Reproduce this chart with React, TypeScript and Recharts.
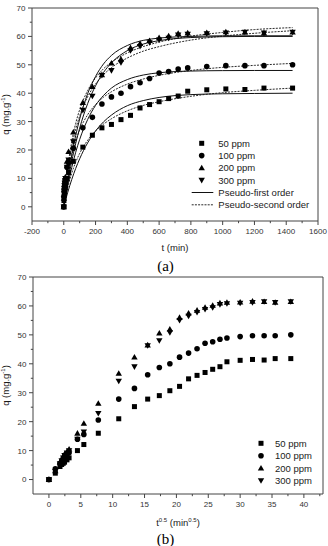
import React from 'react';
import { ComposedChart, Scatter, Line, XAxis, YAxis, ReferenceLine, Legend, Label } from 'recharts';

const FONT = '"Liberation Sans", Arial, Helvetica, sans-serif';
const SERIF = '"Liberation Serif", "Times New Roman", serif';
const INK = '#1a1a1a';
const AXIS = '#444';

// ---- experimental data (t in min, q in mg/g) ----
const TIMES = [0, 1, 3, 4, 5, 6, 8, 10, 20, 30, 60, 120, 180, 240, 300, 360, 420, 480, 540, 600, 660, 720, 780, 900, 1020, 1140, 1260, 1440];
const Q50 = [0, 2.2, 4.5, 5.2, 5.6, 6.0, 6.8, 7.5, 10, 12.1, 16, 21, 25.2, 27.8, 29, 30.7, 32.2, 34.8, 36, 37, 38.1, 39, 40.7, 41.2, 41.5, 41.3, 41.8, 41.8];
const Q100 = [0, 3.7, 5.5, 6.3, 7, 7.6, 8.5, 9.3, 13.9, 15.6, 20.6, 27.8, 31.5, 36.2, 38.7, 40, 42.3, 43.7, 45.2, 47.1, 47.6, 48.5, 48.9, 49.4, 49.7, 49.7, 49.7, 50];
const Q200 = [0, 3, 6, 7, 8, 8.8, 9.6, 10.5, 16, 19.4, 26.3, 36.7, 42.3, 46.5, 50.6, 52, 56, 57.5, 58.5, 59.5, 60.2, 61, 61.2, 61.3, 61.6, 61.5, 61.2, 61.5];
const Q300 = [0, 2.8, 5.5, 6.5, 7.5, 8.3, 9.2, 10, 14, 16.5, 22.9, 34, 39, 46.3, 48, 50.8, 55, 56.5, 57.8, 58.8, 59.4, 60.5, 60.8, 61, 61.2, 61.5, 61.2, 61.5];

// ---- fitted curves (a) ----
const FIT_T = [0, 10, 25, 50, 75, 100, 150, 200, 250, 300, 400, 500, 600, 800, 1000, 1200, 1440];
const PFO50 = [0, 2.1, 5.1, 9.6, 13.5, 16.9, 22.5, 26.7, 29.9, 32.3, 35.6, 37.4, 38.5, 39.5, 39.8, 39.9, 40];
const PSO50 = [0, 3.0, 6.8, 11.8, 15.7, 18.8, 23.4, 26.7, 29.1, 31.0, 33.8, 35.7, 37.0, 38.9, 40.2, 41.0, 41.8];
const PFO100 = [0, 3.2, 7.5, 13.8, 19.2, 23.7, 30.7, 35.7, 39.2, 41.8, 44.8, 46.4, 47.2, 47.8, 47.95, 48, 48];
const PSO100 = [0, 4.9, 10.8, 18.0, 23.1, 27.0, 32.4, 36.0, 38.6, 40.5, 43.2, 45.0, 46.3, 48.0, 49.1, 49.8, 50.5];
const PFO200 = [0, 4.2, 9.9, 18.2, 25.1, 30.9, 39.8, 45.9, 50.3, 53.3, 56.8, 58.6, 59.4, 60.0, 60.2, 60.2, 60.2];
const PSO200 = [0, 6.3, 13.8, 22.9, 29.4, 34.2, 40.9, 45.4, 48.6, 50.9, 54.2, 56.4, 58.0, 60.1, 61.4, 62.4, 63.1];
const PFO300 = [0, 3.6, 8.6, 16.0, 22.3, 27.7, 36.3, 42.6, 47.3, 50.7, 55.0, 57.3, 58.5, 59.6, 59.9, 60, 60];
const PSO300 = [0, 5.6, 12.5, 21.1, 27.3, 32.0, 38.7, 43.2, 46.5, 49.0, 52.4, 54.8, 56.4, 58.7, 60.1, 61.1, 62.0];

// ---- ticks ----
const A_X_MAJOR = [-200, 0, 200, 400, 600, 800, 1000, 1200, 1400, 1600];
const A_X_MINOR = [-100, 100, 300, 500, 700, 900, 1100, 1300, 1500];
const B_X_MAJOR = [0, 5, 10, 15, 20, 25, 30, 35, 40];
const B_X_MINOR = [2.5, 7.5, 12.5, 17.5, 22.5, 27.5, 32.5, 37.5, 42.5];
const Y_MAJOR = [0, 10, 20, 30, 40, 50, 60, 70];
const Y_MINOR = [5, 15, 25, 35, 45, 55, 65];

const SERIES_NAMES = ['50 ppm', '100 ppm', '200 ppm', '300 ppm'];
const FIT_NAMES = ['Pseudo-first order', 'Pseudo-second order'];

const zip = (xs: number[], ys: number[]) => xs.map((x, i) => ({ t: x, q: ys[i] }));
const SQRT_T = TIMES.map((t) => Math.sqrt(t));

// ---- marker shapes ----
const Square = (p: any) => <rect x={p.cx - 2.5} y={p.cy - 2.5} width={5} height={5} fill="#000" />;
const Circle = (p: any) => <circle cx={p.cx} cy={p.cy} r={2.8} fill="#000" />;
const TriUp = (p: any) => (
  <path d={`M${p.cx},${p.cy - 3.2} L${p.cx + 3.2},${p.cy + 2.4} L${p.cx - 3.2},${p.cy + 2.4} Z`} fill="#000" />
);
const TriDown = (p: any) => (
  <path d={`M${p.cx},${p.cy + 3.2} L${p.cx + 3.2},${p.cy - 2.4} L${p.cx - 3.2},${p.cy - 2.4} Z`} fill="#000" />
);
const SHAPES = [Square, Circle, TriUp, TriDown];
const VALUES = [Q50, Q100, Q200, Q300];

// ---- ticks renderers ----
const XTick = (props: any) => {
  const { x, y, payload, majors } = props;
  const v = payload.value;
  const major = majors.includes(v);
  return (
    <g>
      <line x1={x} x2={x} y1={y} y2={y + (major ? 4 : 2.2)} stroke={AXIS} strokeWidth={1} />
      {major && (
        <text x={x} y={y + 12.7} textAnchor="middle" fontSize={8} fill="#333" fontFamily={FONT}>
          {v}
        </text>
      )}
    </g>
  );
};

const YTick = (props: any) => {
  const { x, y, payload } = props;
  const v = payload.value;
  const major = Y_MAJOR.includes(v);
  return (
    <g>
      <line x1={x} x2={x - (major ? 4 : 2.2)} y1={y} y2={y} stroke={AXIS} strokeWidth={1} />
      {major && (
        <text x={x - 6.5} y={y + 2.9} textAnchor="end" fontSize={8} fill="#333" fontFamily={FONT}>
          {v}
        </text>
      )}
    </g>
  );
};

const YTitle = (top: number, height: number) => (props: any) => {
  const vb = props.viewBox || {};
  const cy = vb.height ? vb.y + vb.height / 2 : top + height / 2;
  const cx = 6;
  return (
    <text
      transform={`rotate(-90 ${cx} ${cy})`}
      x={cx}
      y={cy + 3.3}
      textAnchor="middle"
      fontSize={9.5}
      fill={INK}
      fontFamily={FONT}
    >
      q (mg.g
      <tspan dy={-4} fontSize={6}>-1</tspan>
      <tspan dy={4}>)</tspan>
    </text>
  );
};

const XTitleA = (props: any) => {
  const vb = props.viewBox || { x: 32, y: 221, width: 286 };
  return (
    <text x={vb.x + vb.width / 2} y={vb.y + 29.5} textAnchor="middle" fontSize={9.5} fill={INK} fontFamily={FONT}>
      t (min)
    </text>
  );
};

const XTitleB = (props: any) => {
  const vb = props.viewBox || { x: 33, y: 222, width: 290 };
  return (
    <text x={vb.x + vb.width / 2} y={vb.y + 31.5} textAnchor="middle" fontSize={9.5} fill={INK} fontFamily={FONT}>
      t<tspan dy={-4} fontSize={6}>0.5</tspan>
      <tspan dy={4}> (min</tspan>
      <tspan dy={-4} fontSize={6}>0.5</tspan>
      <tspan dy={4}>)</tspan>
    </text>
  );
};

const PanelTag = (tag: string) => (props: any) => {
  const vb = props.viewBox || { y: 221 };
  return (
    <text x={165.5} y={vb.y + 49.5} textAnchor="middle" fontSize={15} fill="#000" fontFamily={SERIF}>
      {tag}
    </text>
  );
};

const markerAt = (i: number, cx: number, cy: number) => {
  const S = SHAPES[i];
  return <S cx={cx} cy={cy} />;
};

const LegendA = () => {
  const rows = [6.3, 18.6, 30.9, 43.2, 55.5, 67.8];
  return (
    <svg width={140} height={78} style={{ overflow: 'visible' }}>
      {SERIES_NAMES.map((n, i) => (
        <g key={n}>
          {markerAt(i, 13.7, rows[i])}
          <text x={30.3} y={rows[i] + 3.3} fontSize={9.5} fill={INK} fontFamily={FONT}>
            {n}
          </text>
        </g>
      ))}
      {FIT_NAMES.map((n, j) => (
        <g key={n}>
          <line
            x1={3.7}
            x2={25.3}
            y1={rows[4 + j]}
            y2={rows[4 + j]}
            stroke="#111"
            strokeWidth={j === 0 ? 1 : 0.9}
            strokeDasharray={j === 0 ? undefined : '2 1.2'}
          />
          <text x={30.3} y={rows[4 + j] + 3.3} fontSize={9.5} fill={INK} fontFamily={FONT}>
            {n}
          </text>
        </g>
      ))}
    </svg>
  );
};

const LegendB = () => {
  const rows = [6.3, 18.8, 31.2, 43.6];
  return (
    <svg width={80} height={52} style={{ overflow: 'visible' }}>
      {SERIES_NAMES.map((n, i) => (
        <g key={n}>
          {markerAt(i, 11, rows[i])}
          <text x={25} y={rows[i] + 3.3} fontSize={9.5} fill={INK} fontFamily={FONT}>
            {n}
          </text>
        </g>
      ))}
    </svg>
  );
};

const FITS = [
  { data: PFO50, dash: false },
  { data: PSO50, dash: true },
  { data: PFO100, dash: false },
  { data: PSO100, dash: true },
  { data: PFO200, dash: false },
  { data: PSO200, dash: true },
  { data: PFO300, dash: false },
  { data: PSO300, dash: true },
];

export default function App() {
  return (
    <div style={{ position: 'absolute', left: 0, top: 0, width: 328, height: 546, background: '#fff', overflow: 'hidden' }}>
      {/* Chart (a) */}
      <div style={{ position: 'absolute', left: 0, top: 0 }}>
        <ComposedChart width={328} height={278} margin={{ top: 8, right: 10, bottom: 0, left: 0 }}>
          <XAxis
            type="number"
            dataKey="t"
            domain={[-200, 1600]}
            allowDataOverflow
            ticks={[...A_X_MAJOR, ...A_X_MINOR]}
            interval={0}
            height={57}
            tickSize={0}
            tickMargin={0}
            tickLine={false}
            stroke={AXIS}
            tick={(p: any) => <XTick {...p} majors={A_X_MAJOR} />}
          >
            <Label content={XTitleA} />
            <Label content={PanelTag('(a)')} />
          </XAxis>
          <YAxis
            type="number"
            dataKey="q"
            domain={[-5, 70]}
            allowDataOverflow
            ticks={[...Y_MAJOR, ...Y_MINOR]}
            interval={0}
            width={32}
            tickSize={0}
            tickMargin={0}
            tickLine={false}
            stroke={AXIS}
            tick={(p: any) => <YTick {...p} />}
          >
            <Label content={YTitle(8, 213)} />
          </YAxis>
          <ReferenceLine y={70} stroke={AXIS} strokeWidth={1} />
          <ReferenceLine x={1600} stroke={AXIS} strokeWidth={1} />
          {FITS.map((f, i) => (
            <Line
              key={'fit' + i}
              data={zip(FIT_T, f.data)}
              dataKey="q"
              type="monotone"
              stroke="#111"
              strokeWidth={f.dash ? 0.9 : 1}
              strokeDasharray={f.dash ? '2 1.2' : undefined}
              dot={false}
              activeDot={false}
              isAnimationActive={false}
              legendType="none"
            />
          ))}
          {VALUES.map((vals, i) => (
            <Scatter
              key={'a' + i}
              name={SERIES_NAMES[i]}
              data={zip(TIMES, vals)}
              dataKey="q"
              shape={SHAPES[i]}
              isAnimationActive={false}
            />
          ))}
          <Legend
            layout="vertical"
            verticalAlign="middle"
            align="center"
            content={() => <LegendA />}
            wrapperStyle={{ left: 188, top: 137, width: 140, height: 78 }}
          />
        </ComposedChart>
      </div>

      {/* Chart (b) */}
      <div style={{ position: 'absolute', left: 0, top: 272 }}>
        <ComposedChart width={328} height={274} margin={{ top: 5, right: 5, bottom: 0, left: 0 }}>
          <XAxis
            type="number"
            dataKey="t"
            domain={[-2.5, 43]}
            allowDataOverflow
            ticks={[...B_X_MAJOR, ...B_X_MINOR]}
            interval={0}
            height={52}
            tickSize={0}
            tickMargin={0}
            tickLine={false}
            stroke={AXIS}
            tick={(p: any) => <XTick {...p} majors={B_X_MAJOR} />}
          >
            <Label content={XTitleB} />
            <Label content={PanelTag('(b)')} />
          </XAxis>
          <YAxis
            type="number"
            dataKey="q"
            domain={[-5, 70]}
            allowDataOverflow
            ticks={[...Y_MAJOR, ...Y_MINOR]}
            interval={0}
            width={33}
            tickSize={0}
            tickMargin={0}
            tickLine={false}
            stroke={AXIS}
            tick={(p: any) => <YTick {...p} />}
          >
            <Label content={YTitle(5, 217)} />
          </YAxis>
          <ReferenceLine y={70} stroke={AXIS} strokeWidth={1} />
          <ReferenceLine x={43} stroke={AXIS} strokeWidth={1} />
          {VALUES.map((vals, i) => (
            <Scatter
              key={'b' + i}
              name={SERIES_NAMES[i]}
              data={zip(SQRT_T, vals)}
              dataKey="q"
              shape={SHAPES[i]}
              isAnimationActive={false}
            />
          ))}
          <Legend
            layout="vertical"
            verticalAlign="middle"
            align="center"
            content={() => <LegendB />}
            wrapperStyle={{ left: 250, top: 165, width: 80, height: 52 }}
          />
        </ComposedChart>
      </div>
    </div>
  );
}
